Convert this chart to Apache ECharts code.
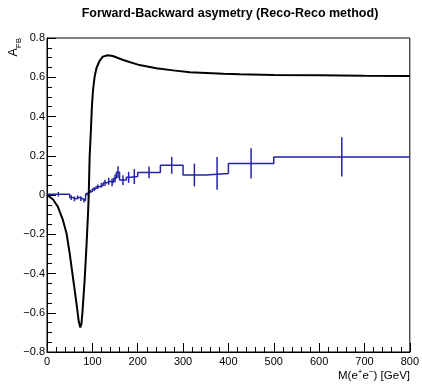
<!DOCTYPE html>
<html>
<head>
<meta charset="utf-8">
<script src="https://cdn.jsdelivr.net/npm/echarts@6/dist/echarts.min.js"></script>
<style>html,body{margin:0;padding:0;background:#fff}#c{width:422px;height:384px}</style>
</head>
<body>
<div id="c"></div>
<script>
// Histogram (Reco-Reco) bins
const binEdges = [0,50,57,64,71,78,85,92,100,108,116,124,132,140,147,153,160,175,185,200,250,300,350,400,500,800];
const binValues = [0.004,-0.013,-0.020,-0.012,-0.018,-0.028,0.005,0.018,0.030,0.042,0.050,0.062,0.070,0.064,0.085,0.116,0.076,0.090,0.094,0.115,0.151,0.102,0.110,0.161,0.194];
const binErrors = [0.012,0.012,0.012,0.010,0.012,0.010,0.008,0.008,0.010,0.012,0.012,0.016,0.018,0.020,0.020,0.030,0.025,0.028,0.038,0.030,0.043,0.058,0.083,0.077,0.100];
// Theory curve
const curveMass = [0,13,24,35,43,50,57,65,70,73.5,76,78,83,87,90.5,92,94,96.5,99,101.5,105,109,116,123,134,145,168,204,241,278,315,352,389,425,500,600,700,800];
const curveAfb = [0,-0.022,-0.06,-0.127,-0.195,-0.297,-0.416,-0.552,-0.645,-0.675,-0.655,-0.603,-0.433,-0.263,-0.093,0.0,0.195,0.314,0.45,0.535,0.603,0.646,0.684,0.705,0.712,0.708,0.688,0.662,0.646,0.635,0.625,0.622,0.618,0.615,0.612,0.61,0.608,0.607];
const xTicks = [0,100,200,300,400,500,600,700,800];
const yTicks = [-0.8,-0.6,-0.4,-0.2,0,0.2,0.4,0.6,0.8];

const FONT = 'Liberation Sans, Arial, Helvetica, sans-serif';
const histColor = '#2424a4';

const stepData = binValues.map((v, i) => [binEdges[i], v]);
stepData.push([binEdges[binEdges.length - 1], binValues[binValues.length - 1]]);
const errData = binValues.map((v, i) => [(binEdges[i] + binEdges[i + 1]) / 2, v, binErrors[i]]);
const curveData = curveMass.map((m, i) => [m, curveAfb[i]]);

const chart = echarts.init(document.getElementById('c'), null, {renderer: 'canvas'});
const axisCommon = {
  type: 'value',
  axisLine: {show: true, onZero: false, lineStyle: {color: '#000', width: 1}},
  axisTick: {show: true, inside: true, length: 9, lineStyle: {color: '#000', width: 1}},
  splitLine: {show: false},
};
chart.setOption({
  animation: false,
  grid: {left: 47, right: 12, top: 38, bottom: 32, show: true, borderColor: '#000', borderWidth: 1, backgroundColor: 'transparent'},
  xAxis: Object.assign({}, axisCommon, {
    min: xTicks[0], max: xTicks[xTicks.length - 1], interval: 100,
    minorTick: {show: true, splitNumber: 5, length: 5, lineStyle: {color: '#000', width: 1}},
    axisLabel: {color: '#000', fontSize: 11, fontFamily: FONT, margin: 4, showMinLabel: true, showMaxLabel: true}
  }),
  yAxis: Object.assign({}, axisCommon, {
    min: yTicks[0], max: yTicks[yTicks.length - 1], interval: 0.2,
    minorTick: {show: true, splitNumber: 4, length: 5, lineStyle: {color: '#000', width: 1}},
    axisLabel: {color: '#000', fontSize: 11, fontFamily: FONT, margin: 2,
      formatter: v => Math.abs(v) < 1e-9 ? '0' : (v < 0 ? '\u2212' : '') + Math.abs(v).toFixed(1)}
  }),
  graphic: [
    {type: 'text', x: 230, y: 14, style: {text: 'Forward-Backward asymetry (Reco-Reco method)', font: 'bold 12.5px ' + FONT, fill: '#000', textAlign: 'center', textVerticalAlign: 'middle'}},
    {type: 'text', x: 410, y: 375, style: {
      text: '{n|M(e}{s|+}{n|e}{s|\u2212}{n|) [GeV]}', textAlign: 'right', textVerticalAlign: 'middle', fill: '#000',
      rich: {n: {fontSize: 11.5, fontFamily: FONT, lineHeight: 14, verticalAlign: 'bottom'}, s: {fontSize: 8, fontFamily: FONT, verticalAlign: 'top'}}
    }},
    {type: 'text', x: 15, y: 38, rotation: Math.PI / 2, style: {
      text: '{a|A}{b|FB}', textAlign: 'right', textVerticalAlign: 'middle', fill: '#000',
      rich: {a: {fontSize: 12.5, fontFamily: FONT, lineHeight: 15, verticalAlign: 'top'}, b: {fontSize: 8, fontFamily: FONT, verticalAlign: 'bottom'}}
    }}
  ],
  series: [
    {type: 'line', data: stepData, step: 'end', showSymbol: false, symbol: 'none', lineStyle: {color: histColor, width: 1.5}, z: 3},
    {type: 'custom', data: errData, z: 4, renderItem: (params, api) => {
      const x = api.value(0), v = api.value(1), e = api.value(2);
      const p1 = api.coord([x, v - e]), p2 = api.coord([x, v + e]);
      return {type: 'group', children: [
        {type: 'line', shape: {x1: p1[0], y1: p1[1], x2: p2[0], y2: p2[1]}, style: {stroke: histColor, lineWidth: 1.5}},
      ]};
    }},
    {type: 'line', data: curveData, showSymbol: false, symbol: 'none', smooth: false, lineStyle: {color: '#000', width: 2}, z: 5}
  ]
});
</script>
</body>
</html>
